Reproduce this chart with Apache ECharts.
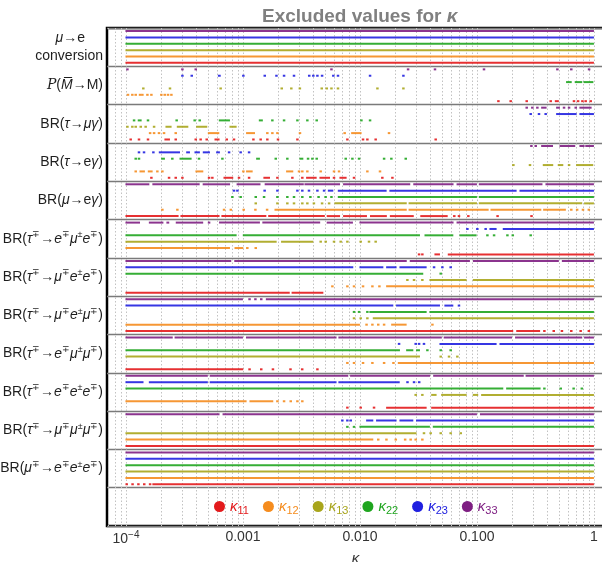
<!DOCTYPE html>
<html>
<head>
<meta charset="utf-8">
<script src="https://cdn.jsdelivr.net/npm/echarts@6/dist/echarts.min.js"></script>
<style>html,body{margin:0;padding:0;background:#fff}#chart{width:602px;height:562px}</style>
</head>
<body>
<div id="chart"></div>
<script>
// couplings, bottom track to top track inside each row
const couplings = ['κ11', 'κ12', 'κ13', 'κ22', 'κ23', 'κ33'];
const couplingSubs = ['11', '12', '13', '22', '23', '33'];
const couplingColors = ['#e31a1c', '#f58c1e', '#a8a51b', '#1fa51f', '#2020e0', '#7e1e82'];

// y labels, top to bottom (last slot holds the legend)
const rowLabels = [
  '{i|μ}→e{pad|}\nconversion',
  '{p|P}({i|M̅}→M)',
  'BR({i|τ}→{i|μγ})',
  'BR({i|τ}→e{i|γ})',
  'BR({i|μ}→e{i|γ})',
  'BR({i|τ}{sup|∓}→{i|e}{sup|∓}{i|μ}{sup|±}{i|e}{sup|∓})',
  'BR({i|τ}{sup|∓}→{i|μ}{sup|∓}{i|e}{sup|±}{i|e}{sup|∓})',
  'BR({i|τ}{sup|∓}→{i|μ}{sup|∓}{i|e}{sup|±}{i|μ}{sup|∓})',
  'BR({i|τ}{sup|∓}→{i|e}{sup|∓}{i|μ}{sup|±}{i|μ}{sup|∓})',
  'BR({i|τ}{sup|∓}→{i|e}{sup|∓}{i|e}{sup|±}{i|e}{sup|∓})',
  'BR({i|τ}{sup|∓}→{i|μ}{sup|∓}{i|μ}{sup|±}{i|μ}{sup|∓})',
  'BR({i|μ}{sup|∓}→{i|e}{sup|∓}{i|e}{sup|±}{i|e}{sup|∓})',
  ''
];
const xTickLabels = ['10{sup|−4}', '0.001', '0.010', '0.100', '1'];

// excluded kappa values, log10(kappa): number = single point, [a, b] = excluded run
// order in every row: κ11, κ12, κ13, κ22, κ23, κ33
const FULL = [[-4, 0]];
const muEConv = [FULL, FULL, FULL, FULL, FULL, FULL];
const mixMM = [
  [-0.823, -0.718, -0.581, -0.376, [-0.33, -0.30], -0.177, -0.142, -0.105, -0.077, -0.034],
  [-3.989, -3.952, -3.923, -3.886, -3.866, -3.823, -3.789, -3.704, -3.675, -3.647, -3.618],
  [-3.858, -3.63, -3.197, -2.675, -2.593, -2.52, -2.333, -2.29, -2.25, -2.194, -1.857, -1.635],
  [[-0.234, -0.19], [-0.16, -0.10], [-0.085, -0.005]],
  [-3.524, -3.444, [-3.21, -3.19], -3.003, -2.82, -2.72, -2.655, -2.57, -2.44, -2.405, -2.37, -2.33, -2.234, -2.194, -1.92, -1.635],
  [-3.994, -3.524, -3.41, -2.25, -1.595, -1.365, -0.946, -0.319, -0.20, -0.048]
];
const tauMuGamma = [
  [-3.966, -3.895, -3.818, [-3.667, -3.624], -3.581, -3.41, -3.368, -3.316, [-3.239, -3.2], -3.145, -3.083, -2.917, -2.855, -2.798, -2.707, -2.541, -2.114, -1.98, -1.943, -1.872, -1.359],
  [-3.80, -3.766, -3.724, -3.681, -3.581, [-3.296, -3.202], [-2.969, -2.897], -2.798, -2.755, -2.712, -2.519, -2.137, [-2.071, -1.986], -1.758],
  [-3.994, -3.952, -3.923, -3.88, -3.838, -3.766, [-3.658, -3.61], [-3.561, -3.467], [-3.396, -3.305], [-3.111, -3.054]],
  [-3.937, [-3.895, -3.866], -3.818, -3.573, -3.419, -3.376, [-3.202, -3.111], [-2.86, -2.83], -2.755, -2.655, -2.541, -2.456, -2.376, -1.994, -1.92],
  [-0.547, -0.476, -0.419, [-0.319, -0.148], [-0.12, 0]],
  [-0.581, -0.533, -0.49, [-0.447, -0.405], [-0.319, -0.291], -0.262, -0.219, -0.162, [-0.12, -0.02]]
];
const tauEGamma = [
  [-3.789, -3.638, -3.581, -3.524, -3.296, -3.268, [-3.162, -3.083], -3.04, -2.954, [-2.821, -2.769], -2.712, -2.584, -2.499, [-2.456, -2.37], [-2.342, -2.256], -2.228, [-2.171, -2.114], -2.057, -1.815, -1.729],
  [-3.923, [-3.88, -3.838], [-3.809, -3.772], -3.738, -3.695, [-3.402, -3.339], -3.003, [-2.969, -2.917], [-2.627, -2.57], -2.527, -2.499, -2.456, -2.342, -2.228, -2.185, -1.943, -1.835],
  [-0.695, -0.553, [-0.433, -0.348], [-0.305, -0.262], -0.219, [-0.148, -0.006]],
  [-3.923, -3.895, [-3.695, -3.667], -3.61, [-3.538, -3.439], -3.382, -3.182, [-2.883, -2.855], -2.726, [-2.627, -2.613], [-2.513, -2.484], -2.45, -2.413, -2.376, -2.128, -2.071, -2.014, -1.80, -1.738, -1.615],
  [-3.895, -3.852, -3.772, [-3.715, -3.538], [-3.481, -3.453], [-3.41, -3.368], [-3.339, -3.282], [-3.225, -3.197], -3.125, -3.026, -2.954],
  [-0.541, -0.504, [-0.447, -0.35], [-0.29, -0.16], [-0.12, -0.08], [-0.07, 0]]
];
const muEGamma = [
  [[-4, -3.55], [-3.53, -3.2], [-3.18, -2.8], [-2.78, -2.3], [-2.28, -2.17], [-2.14, -1.94], [-1.91, -1.77], [-1.74, -1.54], [-1.48, -1.25], -1.20, -1.16, -1.08, -0.83, -0.54],
  [-3.695, -3.567, -3.168, -3.11, -3.0, -2.9, -2.8, [-2.726, -1.6], [-1.58, -0.9], [-0.88, -0.45], [-0.43, -0.24], -0.2, -0.15, -0.1, -0.05],
  [-2.897, -2.712, -2.627, -2.57, -2.499, -2.456, -2.4, -2.33, -2.27, [-2.214, -1.6], [-1.58, -1.0], [-0.98, -0.1], [-0.08, 0]],
  [-3.097, -3.026, -2.897, -2.826, -2.712, -2.627, -2.57, -2.499, -2.43, -2.36, -2.3, -2.25, [-2.185, -1.0], [-0.98, 0]],
  [-3.083, -3.054, -2.821, -2.712, -2.541, -2.499, -2.442, -2.37, -2.313, [-2.27, -2.228], [-2.185, -1.772], [-1.744, -0.661], [-0.632, 0]],
  [[-4, -3.8], [-3.77, -3.37], [-3.34, -3.11], [-3.05, -2.85], [-2.81, -2.48], [-2.47, -2.17], [-2.14, -1.57], [-1.54, -1.2], [-1.17, -1.0], [-0.98, -0.44], [-0.41, 0]]
];
const tauEMuE = [
  [-1.501, -1.473, [-1.359, -1.316], [-1.245, 0]],
  [[-4, -3.111], [-3.068, -2.997], -2.969, -2.897],
  [[-4, -2.712], [-2.67, -2.399], -2.342, -2.299, -2.228, -2.171, -2.114, -2.0, -1.929, -1.872],
  [[-4, -3.054], [-2.997, -1.487], [-1.444, -1.202], [-1.145, -1.003], -0.917, -0.86, -0.746, -0.70, -0.547],
  [-1.088, -1.003, -0.932, [-0.889, -0.832], [-0.775, 0]],
  [[-4, -3.88], [-3.80, -3.68], [-3.65, -3.63], [-3.57, -3.34], -3.296, [-3.2, -2.855], [-2.83, -2.34], [-2.28, -2.06], [-2.0, -1.2], [-1.17, 0]]
];
const tauMuEE = [
  [[-4, -2.6], [-2.58, -2.313]],
  [-2.242, -2.114, -2.057, -1.98, -1.9, -1.84, [-1.772, 0]],
  [-1.601, -1.544, -1.473, [-1.402, -1.088], [-1.031, 0]],
  [[-4, -1.459], -1.316],
  [[-4, -2.057], [-2.0, -1.8], [-1.772, -1.687], [-1.658, -1.43], -1.373, -1.302, -1.231],
  [[-4, -3.1], [-3.07, -1.6], [-1.57, -1.06], [-1.03, -0.3], [-0.27, 0]]
];
const tauMuEMu = [
  [[-4, -0.69], [-0.66, -0.46], -0.43, -0.35, -0.28, -0.2, -0.12, -0.05],
  [[-4, -2.0], -1.95, -1.9, -1.85, -1.8, [-1.729, -1.601], -1.387],
  [-2.057, -2.0, -1.943, [-1.886, 0]],
  [-2.057, -2.014, -1.943, [-1.915, -1.43], [-1.402, 0]],
  [[-4, -1.715], [-1.687, -1.316], [-1.274, -1.202], -1.16],
  [[-4, -3.0], -2.95, -2.9, -2.85, [-2.8, 0]]
];
const tauEMuMu = [
  [[-4, -2.997], -2.95, -2.85, -2.75, -2.6, -2.5, -2.37],
  [-2.114, -2.057, -1.98, -1.9, -1.8, -1.72, [-1.672, 0]],
  [[-4, -1.487], -1.316, -1.245, -1.174],
  [[-4, -1.658], [-1.601, -1.544], [-1.516, -1.487], -1.43, -1.316, -1.231],
  [-1.672, -1.53, -1.501, -1.459, [-1.316, -0.832], [-0.803, 0]],
  [[-4, -3.6], [-3.58, -3.0], [-2.97, -2.2], [-2.18, -1.3], [-1.28, -0.7], [-0.67, -0.1], [-0.08, 0]]
];
const tauEEE = [
  [-2.114, -2.0, -1.886, [-1.772, -1.43], [-1.387, 0]],
  [[-4, -2.969], [-2.94, -2.741], -2.712, -2.655, -2.598, -2.541, -2.499],
  [-1.53, -1.473, [-1.387, -1.345], [-1.302, -1.088], [-1.031, -0.989], [-0.96, 0]],
  [[-4, -0.775], [-0.746, -0.456], -0.43, -0.29, -0.18, -0.11],
  [[-4, -3.85], [-3.8, -3.3], [-3.28, -2.2], [-2.18, -1.66], -1.6, -1.544, -1.5],
  [[-4, -3.3], [-3.28, -2.1], [-2.08, -1.4], [-1.37, -0.6], [-0.58, 0]]
];
const tauMuMuMu = [
  FULL,
  [[-4, -1.886], -1.85, -1.78, -1.7, -1.62, -1.573, -1.53, -1.473],
  [[-4, -1.516], -1.459, -1.402, -1.316, -1.231, -1.145],
  [-2.114, -2.057, [-2.0, -1.402], [-1.373, 0]],
  [-2.157, -2.114, -2.085, [-1.943, -1.886], [-1.858, -1.687], [-1.658, -1.544], [-1.516, 0]],
  [[-4, -3.2], [-3.17, -1.0], [-0.97, 0]]
];
const muEEE = [
  [-4, -3.95, -3.9, -3.85, -3.8, [-3.77, 0]],
  FULL, FULL, FULL, FULL, FULL
];
const rows = [muEConv, mixMM, tauMuGamma, tauEGamma, muEGamma, tauEMuE,
  tauMuEE, tauMuEMu, tauEMuMu, tauEEE, tauMuMuMu, muEEE];

const X_MIN = Math.pow(10, -4.162);
const X_MAX = Math.pow(10, 0.086);
const FONT = 'Liberation Sans';

// dotted grid at 1..9 x 10^k
const gridTicks = [];
for (let k = -5; k <= 0; k++) {
  for (let m = 1; m <= 9; m++) {
    const v = m * Math.pow(10, k);
    if (v > X_MIN && v < X_MAX) gridTicks.push([v]);
  }
}

function trackRenderer(j) {
  return function (params, api) {
    const row = api.value(2);
    const p0 = api.coord([api.value(0), row]);
    const p1 = api.coord([api.value(1), row]);
    const band = params.coordSys.height / rowLabels.length;
    const y = p0[1] + (0.41 - j * 0.166) * band;
    const w = Math.max(p1[0] - p0[0], 2);
    return {
      type: 'rect',
      shape: { x: p0[0] - 0.5, y: y - 1, width: w + 0.5, height: 2 },
      style: { fill: couplingColors[j], opacity: 0.9 }
    };
  };
}

const series = [{
  name: 'grid',
  type: 'custom',
  silent: true,
  z: 1,
  data: gridTicks,
  encode: { x: 0 },
  renderItem: function (params, api) {
    const cs = params.coordSys;
    const x = Math.round(api.coord([api.value(0), 0])[0]) + 0.5;
    return {
      type: 'line',
      shape: { x1: x, y1: cs.y, x2: x, y2: cs.y + cs.height },
      style: { stroke: '#c2c2c2', lineWidth: 1, lineDash: [1.5, 2] }
    };
  }
}];

couplings.forEach(function (name, j) {
  const data = [];
  rows.forEach(function (r, i) {
    r[j].forEach(function (e) {
      const a = Array.isArray(e) ? e[0] : e;
      const b = Array.isArray(e) ? e[1] : e;
      data.push([Math.pow(10, a), Math.pow(10, b), i]);
    });
  });
  series.push({
    name: name,
    type: 'custom',
    z: 2,
    itemStyle: { color: couplingColors[j] },
    encode: { x: [0, 1], y: 2 },
    data: data,
    renderItem: trackRenderer(j)
  });
});

const legendRich = {};
couplings.forEach(function (name, j) {
  legendRich['k' + j] = { fontFamily: FONT, fontStyle: 'italic', fontSize: 15, color: couplingColors[j] };
  legendRich['s' + j] = { fontFamily: FONT, fontSize: 11, color: couplingColors[j], padding: [8, 0, 0, 0] };
});

const chart = echarts.init(document.getElementById('chart'));
chart.setOption({
  backgroundColor: '#fff',
  animation: false,
  title: {
    text: '{a|Excluded values for }{b|κ}',
    left: 257,
    top: 2,
    textStyle: {
      rich: {
        a: { fontFamily: FONT, fontSize: 19, color: '#808080' },
        b: { fontFamily: FONT, fontSize: 19, fontStyle: 'italic', color: '#808080' }
      }
    }
  },
  legend: {
    data: couplings,
    left: 209,
    top: 494,
    icon: 'circle',
    itemWidth: 11,
    itemHeight: 11,
    itemGap: 14,
    formatter: function (name) {
      const j = couplings.indexOf(name);
      return '{k' + j + '|κ}{s' + j + '|' + couplingSubs[j] + '}';
    },
    textStyle: { rich: legendRich }
  },
  grid: {
    left: 107, right: -2, top: 28, bottom: 36,
    outerBoundsMode: 'none',
    show: true, borderColor: '#000', borderWidth: 2.5
  },
  xAxis: {
    type: 'log',
    logBase: 10,
    min: X_MIN,
    max: X_MAX,
    splitLine: { show: false },
    axisTick: { show: false },
    axisLine: { show: false },
    axisLabel: {
      margin: 4,
      fontFamily: FONT,
      fontSize: 14,
      color: '#333',
      formatter: function (v) {
        const e = Math.log10(v);
        const k = Math.round(e);
        if (Math.abs(e - k) > 0.01 || k < -4 || k > 0) return '';
        return xTickLabels[k + 4];
      },
      rich: {
        sup: { fontFamily: FONT, fontSize: 10, color: '#333', padding: [0, 0, 8, 0] }
      }
    },
    name: 'κ',
    nameLocation: 'middle',
    nameGap: 21,
    nameTextStyle: { fontFamily: FONT, fontStyle: 'italic', fontSize: 15, color: '#333' }
  },
  yAxis: {
    type: 'category',
    data: rowLabels,
    inverse: true,
    axisTick: { show: false },
    axisLine: { show: false },
    splitLine: { show: true, interval: 0, lineStyle: { color: '#7a7a7a', width: 1.3 } },
    axisLabel: {
      interval: 0,
      margin: 4,
      fontFamily: FONT,
      fontSize: 14,
      color: '#1e1e1e',
      lineHeight: 18,
      rich: {
        i: { fontFamily: FONT, fontStyle: 'italic', fontSize: 14, color: '#1e1e1e' },
        sup: { fontFamily: FONT, fontSize: 9, color: '#1e1e1e', padding: [0, 0, 8, 0] },
        p: { fontFamily: 'DejaVu Serif', fontStyle: 'italic', fontSize: 14, color: '#1e1e1e' },
        pad: { width: 18 }
      }
    }
  },
  series: series
});
</script>
</body>
</html>
